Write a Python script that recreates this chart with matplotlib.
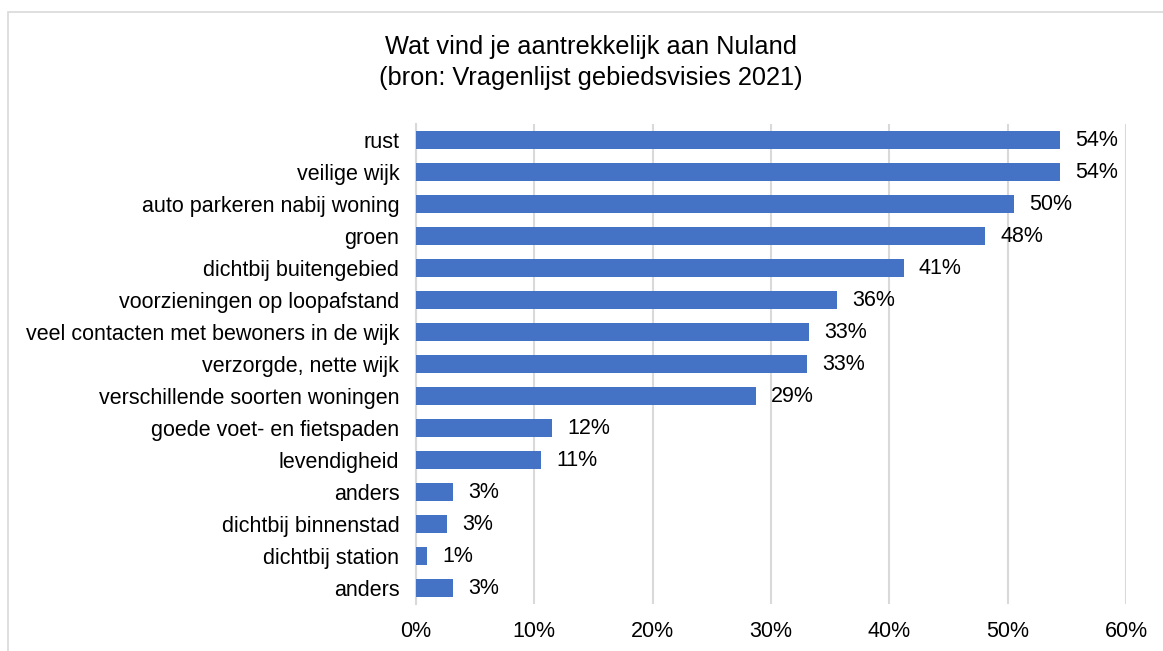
import matplotlib
matplotlib.use("Agg")
import matplotlib.pyplot as plt
from matplotlib.patches import Rectangle

categories = ["rust", "veilige wijk", "auto parkeren nabij woning", "groen",
              "dichtbij buitengebied", "voorzieningen op loopafstand",
              "veel contacten met bewoners in de wijk", "verzorgde, nette wijk",
              "verschillende soorten woningen", "goede voet- en fietspaden",
              "levendigheid", "anders", "dichtbij binnenstad", "dichtbij station",
              "anders"]
values = [0.544, 0.544, 0.505, 0.481, 0.412, 0.356, 0.332, 0.330, 0.287,
          0.115, 0.1055, 0.031, 0.026, 0.009, 0.031]
xticks = [0, 0.1, 0.2, 0.3, 0.4, 0.5, 0.6]
xticklabels = ["0%", "10%", "20%", "30%", "40%", "50%", "60%"]
title = "Wat vind je aantrekkelijk aan Nuland\n(bron: Vragenlijst gebiedsvisies 2021)"

plt.rcParams['font.family'] = ['Liberation Sans', 'DejaVu Sans']

fig = plt.figure(figsize=(11.63, 6.51), dpi=100)
fig.patches.append(Rectangle((8/1163, -0.1), 1.2, 1 - 12/651 + 0.1,
                             transform=fig.transFigure, fill=False,
                             edgecolor="#D9D9D9", linewidth=1.2))
ax = fig.add_axes([416/1163, 1 - 604/651, 710/1163, 480/651])

n = len(categories)
ypos = list(range(n))
ax.barh(ypos, values, height=0.56, color="#4472C4", zorder=3)
ax.set_ylim(n - 0.5, -0.5)
ax.set_xlim(0, 0.6)
ax.set_yticks(ypos)
ax.set_yticklabels(categories, fontsize=15.5, color="#000000")
ax.set_xticks(xticks)
ax.set_xticklabels(xticklabels, fontsize=15.5, color="#000000")
ax.tick_params(axis="both", length=0)
ax.tick_params(axis="y", pad=12)
ax.tick_params(axis="x", pad=12)
ax.grid(axis="x", color="#D9D9D9", linewidth=1.5, zorder=0)
for s in ["top", "right", "bottom"]:
    ax.spines[s].set_visible(False)
ax.spines["left"].set_color("#D9D9D9")
ax.spines["left"].set_linewidth(1.5)

for y, v in zip(ypos, values):
    ax.annotate(f"{round(v*100):.0f}%", xy=(v, y), xytext=(11, 0),
                textcoords="offset points", va="center", ha="left",
                fontsize=15.5, color="#000000")

fig.text(591/1163, 1 - 62.5/651, title, ha="center", va="center",
         fontsize=18.3, linespacing=1.32, color="#000000")

fig.savefig("out.png", dpi=100)
